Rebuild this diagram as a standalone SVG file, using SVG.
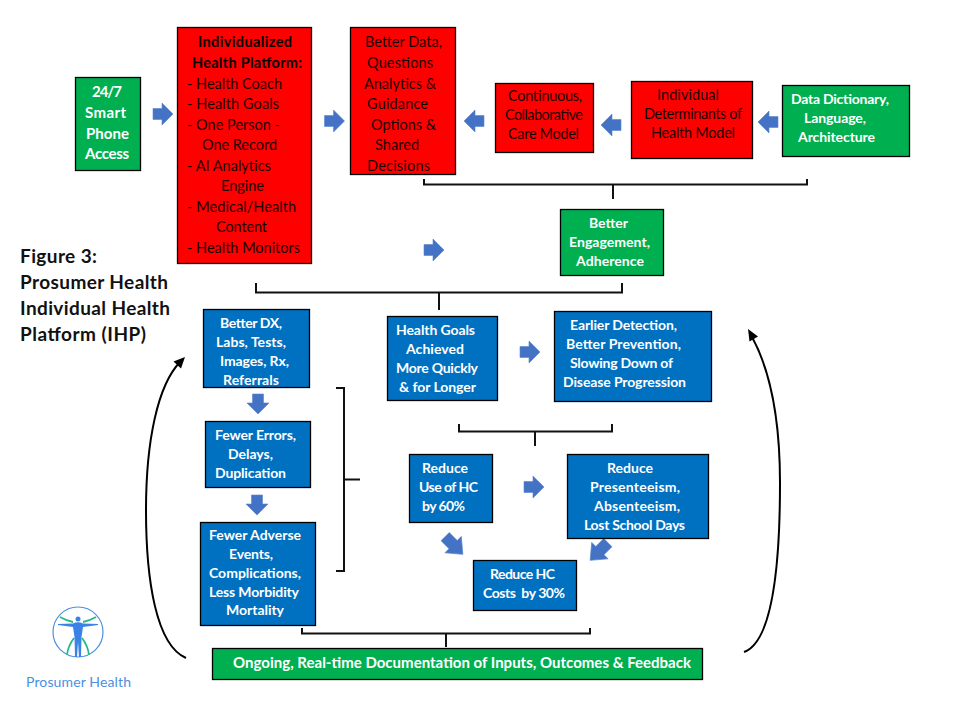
<svg xmlns="http://www.w3.org/2000/svg" width="960" height="720" viewBox="0 0 960 720">
<style>
text{font-family:"Lato","Liberation Sans",sans-serif;font-size:14px;white-space:pre}
.box{stroke:#000;stroke-width:1.3}
.red{fill:#ff0000}.green{fill:#00b050}.blue{fill:#0070c0}
.dk{fill:#1c0000;font-size:14.500px}
.wt{fill:#fff;font-weight:700}
.lg{font-size:15px}
.bd{font-weight:700;fill:#0a0000;font-size:14.500px}
.ti{font-weight:700;fill:#111;font-size:19px}
.br{fill:none;stroke:#111;stroke-width:2}
.arc{fill:none;stroke:#000;stroke-width:2}
.ar{fill:#4472c4;stroke:#5b84cc;stroke-width:.6}
</style>
<defs>
<path id="ra" d="M-10-5.500H-1V-11L10 0L-1 11V5.500H-10Z"/>
</defs>
<rect width="960" height="720" fill="#fff"/>

<g id="connectors">
<use href="#ra" class="ar" transform="translate(163,114)"/>
<use href="#ra" class="ar" transform="translate(334.500,121)"/>
<use href="#ra" class="ar" transform="translate(474,121) rotate(180)"/>
<use href="#ra" class="ar" transform="translate(611,125) rotate(180)"/>
<use href="#ra" class="ar" transform="translate(768,122) rotate(180)"/>
<use href="#ra" class="ar" transform="translate(434,250)"/>
<use href="#ra" class="ar" transform="translate(258,404) rotate(90)"/>
<use href="#ra" class="ar" transform="translate(257,505) rotate(90)"/>
<use href="#ra" class="ar" transform="translate(530,352)"/>
<use href="#ra" class="ar" transform="translate(534,487)"/>
<use href="#ra" class="ar" transform="translate(454,545.500) rotate(45) scale(1.250,1.050)"/>
<use href="#ra" class="ar" transform="translate(599,551.500) rotate(135) scale(1.250,1.050)"/>
<path class="br" d="M424 179V184.500H807V179M613 184.500V199"/>
<path class="br" d="M256 283V292.500H622V283M439 292.500V310"/>
<path class="br" d="M459 424V431.500H612V424M535 431.500V446"/>
<path class="br" d="M336 388H344V571H336M344 479.500H360"/>
<path class="br" d="M302 628V633.500H590V628M446 633.500V647"/>
<path class="arc" d="M186 658C156 645 146 580 146 510C146 440 158 385 180 362"/>
<path d="M185 357L173.500 361.500L181 368.500Z" fill="#000"/>
<path class="arc" d="M744 652C772 642 780 570 780 483C780 420 770 370 752 337"/>
<path d="M748 329L749.500 341.500L758 336.500Z" fill="#000"/>
</g>

<g id="smart-phone">
<rect class="box green" x="75.500" y="77.500" width="65" height="93"/>
<text class="wt lg" x="92" y="97" textLength="30">24/7</text><text class="wt lg" x="85" y="118" textLength="41">Smart</text><text class="wt lg" x="86" y="139" textLength="43">Phone</text><text class="wt lg" x="85" y="159" textLength="44">Access</text>
</g>
<g id="health-platform">
<rect class="box red" x="177.500" y="27.500" width="134" height="236"/>
<text class="bd" x="198" y="47" textLength="94">Individualized</text><text class="bd" x="192" y="68" textLength="110">Health Platform:</text>
<text class="dk" x="187" y="89" textLength="95">- Health Coach</text><text class="dk" x="187" y="109" textLength="92">- Health Goals</text><text class="dk" x="187" y="130" textLength="93">- One Person -</text><text class="dk" x="202" y="150" textLength="75">One Record</text><text class="dk" x="187" y="171" textLength="84">- AI Analytics</text><text class="dk" x="221" y="191" textLength="43">Engine</text><text class="dk" x="187" y="212" textLength="109">- Medical/Health</text><text class="dk" x="216" y="232" textLength="51">Content</text><text class="dk" x="187" y="253" textLength="113">- Health Monitors</text>
</g>
<g id="better-data">
<rect class="box red" x="350.500" y="27.500" width="105" height="147"/>
<text class="dk" x="365" y="47" textLength="77">Better Data,</text><text class="dk" x="367" y="68" textLength="66">Questions</text><text class="dk" x="364" y="89" textLength="72">Analytics &amp;</text><text class="dk" x="367" y="109" textLength="61">Guidance</text><text class="dk" x="371" y="130" textLength="65">Options &amp;</text><text class="dk" x="375" y="150" textLength="44">Shared</text><text class="dk" x="367" y="171" textLength="63">Decisions</text>
</g>
<g id="care-model">
<rect class="box red" x="495.500" y="83.500" width="98" height="69"/>
<text class="dk" x="508" y="101" textLength="74">Continuous,</text><text class="dk" x="505" y="120" textLength="78">Collaborative</text><text class="dk" x="508" y="139" textLength="71">Care Model</text>
</g>
<g id="determinants">
<rect class="box red" x="631.500" y="81.500" width="121" height="77"/>
<text class="dk" x="657" y="100" textLength="62">Individual</text><text class="dk" x="644" y="119" textLength="98">Determinants of</text><text class="dk" x="651" y="138" textLength="84">Health Model</text>
</g>
<g id="data-dictionary">
<rect class="box green" x="782.500" y="85.500" width="127" height="71"/>
<text class="wt" x="791" y="104" textLength="98">Data Dictionary,</text><text class="wt" x="804" y="123" textLength="62">Language,</text><text class="wt" x="798" y="142" textLength="77">Architecture</text>
</g>
<g id="engagement">
<rect class="box green" x="560.500" y="209.500" width="103" height="66"/>
<text class="wt" x="589" y="228" textLength="39">Better</text><text class="wt" x="569" y="247" textLength="81">Engagement,</text><text class="wt" x="576" y="266" textLength="68">Adherence</text>
</g>
<g id="figure-title">
<text class="ti" x="20" y="263" textLength="77">Figure 3:</text>
<text class="ti" x="20" y="289" textLength="148">Prosumer Health</text>
<text class="ti" x="20" y="315" textLength="150">Individual Health</text>
<text class="ti" x="20" y="341" textLength="126">Platform (IHP)</text>
</g>
<g id="better-dx">
<rect class="box blue" x="203.500" y="309.500" width="106" height="78"/>
<text class="wt" x="220" y="328" textLength="62">Better DX,</text><text class="wt" x="216" y="347" textLength="70">Labs, Tests,</text><text class="wt" x="220" y="366" textLength="69">Images, Rx,</text><text class="wt" x="223" y="385" textLength="56">Referrals</text>
</g>
<g id="fewer-errors">
<rect class="box blue" x="205.500" y="421.500" width="105" height="66"/>
<text class="wt" x="215" y="440" textLength="81">Fewer Errors,</text><text class="wt" x="228" y="459" textLength="45">Delays,</text><text class="wt" x="215" y="478" textLength="71">Duplication</text>
</g>
<g id="adverse-events">
<rect class="box blue" x="200.500" y="522.500" width="115" height="103"/>
<text class="wt" x="209" y="540" textLength="92">Fewer Adverse</text><text class="wt" x="229" y="559" textLength="44">Events,</text><text class="wt" x="209" y="578" textLength="92">Complications,</text><text class="wt" x="209" y="597" textLength="90">Less Morbidity</text><text class="wt" x="226" y="615" textLength="58">Mortality</text>
</g>
<g id="goals-achieved">
<rect class="box blue" x="387.500" y="316.500" width="110" height="84"/>
<text class="wt" x="396" y="335" textLength="79">Health Goals</text><text class="wt" x="406" y="354" textLength="58">Achieved</text><text class="wt" x="396" y="373" textLength="82">More Quickly</text><text class="wt" x="399" y="392" textLength="77">&amp; for Longer</text>
</g>
<g id="earlier-detection">
<rect class="box blue" x="554.500" y="311.500" width="157" height="90"/>
<text class="wt" x="570" y="330" textLength="107">Earlier Detection,</text><text class="wt" x="566" y="349" textLength="115">Better Prevention,</text><text class="wt" x="570" y="368" textLength="103">Slowing Down of</text><text class="wt" x="563" y="387" textLength="123">Disease Progression</text>
</g>
<g id="reduce-use">
<rect class="box blue" x="409.500" y="454.500" width="83" height="68"/>
<text class="wt" x="422" y="473" textLength="46">Reduce</text><text class="wt" x="419" y="492" textLength="59">Use of HC</text><text class="wt" x="422" y="511" textLength="43">by 60%</text>
</g>
<g id="reduce-presenteeism">
<rect class="box blue" x="567.500" y="454.500" width="141" height="84"/>
<text class="wt" x="607" y="473" textLength="46">Reduce</text><text class="wt" x="590" y="492" textLength="90">Presenteeism,</text><text class="wt" x="594" y="511" textLength="86">Absenteeism,</text><text class="wt" x="584" y="530" textLength="101">Lost School Days</text>
</g>
<g id="reduce-costs">
<rect class="box blue" x="473.500" y="560.500" width="103" height="50"/>
<text class="wt" x="490" y="579" textLength="65">Reduce HC</text><text class="wt" x="483" y="598" textLength="82">Costs  by 30%</text>
</g>
<g id="documentation">
<rect class="box green" x="212.500" y="648.500" width="490" height="31"/>
<text class="wt lg" x="233" y="668" textLength="458">Ongoing, Real-time Documentation of Inputs, Outcomes &amp; Feedback</text>
</g>
<g id="logo">
<circle cx="78" cy="632" r="25" fill="none" stroke="#4a90e2" stroke-width="1.200"/>
<path d="M60 617Q67 621 73 622M96 617Q89 621 83 622M67 655Q68 646 74 638M89 655Q88 646 82 638" fill="none" stroke="#25b98a" stroke-width="1.800"/>
<path d="M58 624L73 623.500Q78 621 83 623.500L98 624V625L83 627L81.500 637L81 657H79L78 642L77 657H75L74.500 637L73 627L58 625Z" fill="#3b82e6"/>
<circle cx="78" cy="619" r="2.500" fill="#3b82e6"/>
<text x="26" y="687" fill="#4a90e2" textLength="105">Prosumer Health</text>
</g>
</svg>
